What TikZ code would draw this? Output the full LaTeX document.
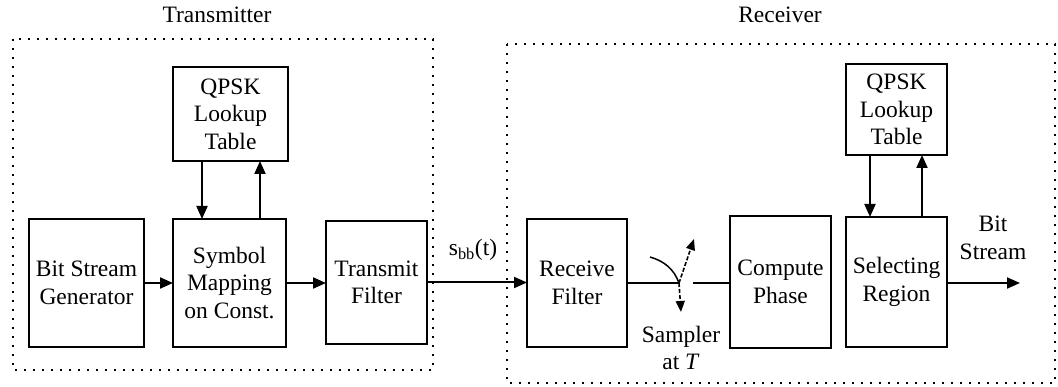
\documentclass[tikz,border=0pt]{standalone}
\usepackage{fontspec}
\setmainfont{Liberation Serif}
\usepackage{tikz}
\usetikzlibrary{arrows.meta,positioning,calc}
\tikzset{
  blk/.style={
    rectangle, draw=black, line width=2pt, fill=white,
    inner sep=0pt, outer sep=0pt,
    align=center, font=\fontsize{23.5}{27.5}\selectfont
  },
  grpframe/.style={draw=black, line width=2.2pt, dash pattern=on 2.2pt off 6.8pt},
  grplabel/.style={font=\fontsize{23.5}{27.5}\selectfont, inner sep=0pt},
  txtlabel/.style={align=center, font=\fontsize{23.5}{27.5}\selectfont, inner sep=0pt},
  blkarrow/.style={-{Triangle[length=13pt,width=11pt]}, line width=2pt},
  smparrow/.style={-{Triangle[length=11pt,width=9pt]}, line width=1.6pt, dash pattern=on 4pt off 2pt},
}

\begin{document}
\begin{tikzpicture}[x=1pt, y=-1pt]
  \useasboundingbox (0,0) rectangle (1058,387);

  % frames
  \draw[grpframe] (13,39) rectangle (433,370);
  \draw[grpframe] (507,44) rectangle (1055,383);
  \node (txlbl) [grplabel] at (217,15) {Transmitter};
  \node (rxlbl) [grplabel] at (780,15) {Receiver};

  % transmitter
  \node (bsg)  [blk, minimum width=115, minimum height=128] at (86.5,283) {Bit Stream\\Generator};
  \node (sym)  [blk, minimum width=113, minimum height=128] at (229.5,283) {Symbol\\Mapping\\on Const.};
  \node (lutA) [blk, minimum width=115, minimum height=94] at (230.5,114) {QPSK\\Lookup\\Table};
  \node (txf)  [blk, minimum width=101, minimum height=123] at (376.5,282.5) {Transmit\\Filter};

  % receiver
  \node (rxf)  [blk, minimum width=100, minimum height=128] at (577,283) {Receive\\Filter};
  \node (cph)  [blk, minimum width=101, minimum height=132] at (780.5,282) {Compute\\Phase};
  \node (sel)  [blk, minimum width=101, minimum height=130] at (896.5,282) {Selecting\\Region};
  \node (lutB) [blk, minimum width=101, minimum height=91] at (896.5,109.5) {QPSK\\Lookup\\Table};

  % labels
  \node (sbb)  [txtlabel] at (473,250) {s\textsubscript{bb}(t)};
  \node (smpl) [txtlabel] at (681,348) {Sampler\\at \textit{T}};
  \node (bsl)  [txtlabel] at (993,238) {Bit\\Stream};

  % sampler switch
  \coordinate (piv)   at (679,283);
  \coordinate (swout) at (693,283);
  \coordinate (swarc) at (650,257);
  \coordinate (swup)  at (694,239);
  \coordinate (swdn)  at (681,312);
  \coordinate (bsout) at (1020,283);

  \draw[blkarrow] (bsg) -- (sym);
  \draw[blkarrow] (sym) -- (txf.west |- sym);
  \draw[blkarrow] ([xshift=-28.5]lutA.south) -- ([xshift=-28.5]lutA.south |- sym.north);
  \draw[blkarrow] ([xshift=29.5]lutA.south |- sym.north) -- ([xshift=29.5]lutA.south);
  \draw[blkarrow] (txf) -- (rxf.west |- txf);

  \draw[line width=2pt] (rxf.east |- piv) -- (piv);
  \draw[line width=2pt] (swout) -- (cph.west |- swout);
  \draw[line width=1.5pt] (swarc) .. controls (664,261) and (674,269) .. (piv);
  \draw[smparrow] (piv) -- (swup);
  \draw[smparrow] (piv) -- (swdn);

  \draw[blkarrow] ([xshift=-26.5]lutB.south) -- ([xshift=-26.5]lutB.south |- sel.north);
  \draw[blkarrow] ([xshift=25.5]lutB.south |- sel.north) -- ([xshift=25.5]lutB.south);
  \draw[blkarrow] (sel.east |- bsout) -- (bsout);
\end{tikzpicture}
\end{document}
